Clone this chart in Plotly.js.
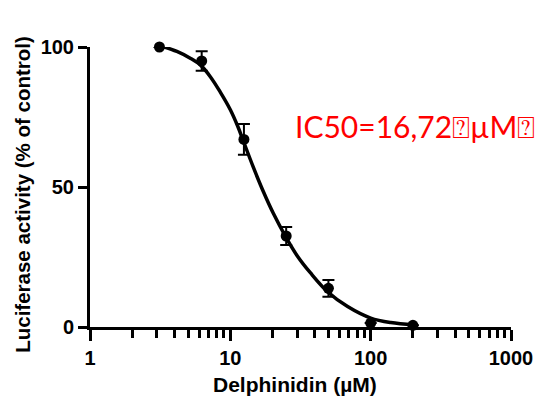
<!DOCTYPE html>
<html><head><meta charset="utf-8">
<script src="https://cdn.plot.ly/plotly-3.0.1.min.js"></script>
<style>body{margin:0;background:#fff}#chart{width:537px;height:400px}</style>
</head><body><div id="chart"></div>
<script>
// Measured points
const conc = [3.125, 6.25, 12.5, 25, 50, 100, 200];
const activity = [100, 95, 67, 32.5, 13.8, 1.4, 0.6];
const errors = [0, 3.5, 5.5, 3.2, 3.0, 0, 0];
// Fitted curve
const curveX = [3.34, 4.16, 5.18, 6.11, 7.20, 8.48, 10.0, 11.31, 12.38, 14.6, 17.21, 20.28, 24.71, 30.1, 37.28, 49.3, 68.5, 100, 139, 204];
const curveY = [100.1, 98.4, 96.0, 93.6, 89.4, 83.9, 77.6, 71.6, 66.4, 57.0, 48.3, 40.5, 32.4, 25.3, 19.3, 12.6, 7.3, 3.2, 1.6, 0.8];
const xTicks = [1, 10, 100, 1000];
const xMinorTicks = [2, 3, 4, 5, 6, 7, 8, 9, 20, 30, 40, 50, 60, 70, 80, 90, 200, 300, 400, 500, 600, 700, 800, 900];
const yTicks = [0, 50, 100];
const xTitle = 'Delphinidin (µM)';
const yTitle = 'Luciferase activity (% of control)';
const annotationText = 'IC50=16,72⍰µM⍰';

const traces = [
  {x: curveX, y: curveY, mode: 'lines', line: {color: '#000', width: 3.5, shape: 'spline', smoothing: 1}, cliponaxis: false, hoverinfo: 'skip'},
  {x: conc, y: activity, mode: 'markers', marker: {color: '#000', size: 11},
   error_y: {type: 'data', array: errors, color: '#000', thickness: 2, width: 6, visible: true}, cliponaxis: false}
];
const bold = {family: 'Liberation Sans, Arial, sans-serif', color: '#000', weight: 'bold'};
const tickFont = Object.assign({size: 20}, bold);
const layout = {
  width: 537, height: 400, showlegend: false,
  paper_bgcolor: '#fff', plot_bgcolor: '#fff',
  margin: {l: 90, r: 26, t: 47, b: 73},
  xaxis: {type: 'log', range: [0, 3], tickvals: xTicks, ticktext: xTicks.map(String),
    showgrid: false, zeroline: false, showline: true, linecolor: '#000', linewidth: 3,
    ticks: 'outside', ticklen: 11, tickwidth: 3, tickcolor: '#000', tickfont: tickFont,
    minor: {tickvals: xMinorTicks, ticks: 'outside', ticklen: 8, tickwidth: 3, tickcolor: '#000', showgrid: false}},
  yaxis: {range: [0, 100], tickvals: yTicks, showgrid: false, zeroline: false, showline: true,
    linecolor: '#000', linewidth: 3, ticks: 'outside', ticklen: 9, tickwidth: 3, tickcolor: '#000', tickfont: tickFont},
  annotations: [
    {xref: 'paper', yref: 'paper', x: 0.483, y: 0.717, xanchor: 'left', yanchor: 'middle',
     text: annotationText, showarrow: false, font: {family: 'Lato, Open Sans, sans-serif', size: 30, color: '#ff0000'}},
    {xref: 'paper', yref: 'paper', x: 0.488, y: -0.205, xanchor: 'center', yanchor: 'middle',
     text: xTitle, showarrow: false, font: Object.assign({size: 21}, bold)},
    {xref: 'paper', yref: 'paper', x: -0.162, y: 0.475, xanchor: 'center', yanchor: 'middle', textangle: -90,
     text: yTitle, showarrow: false, font: Object.assign({size: 20.5}, bold)}
  ]
};
Plotly.newPlot('chart', traces, layout, {displayModeBar: false, staticPlot: true});
</script></body></html>
